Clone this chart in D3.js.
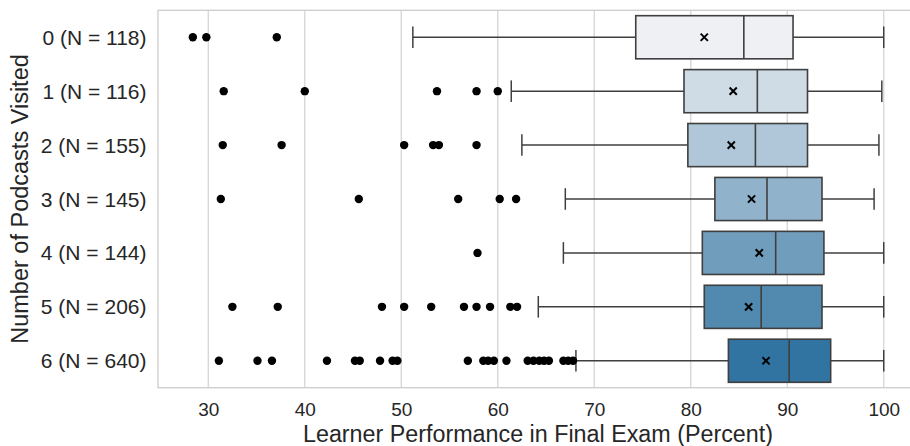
<!DOCTYPE html>
<html>
<head>
<meta charset="utf-8">
<script src="https://cdn.jsdelivr.net/npm/d3@7"></script>
<style>
  html, body { margin: 0; padding: 0; background: #fff; }
  svg { display: block; }
  text { font-family: "Liberation Sans", Arial, sans-serif; fill: #262626; }
</style>
</head>
<body>
<svg id="chart" width="910" height="446"></svg>
<script>
// ---- data ----
const categories = ["0 (N = 118)", "1 (N = 116)", "2 (N = 155)", "3 (N = 145)", "4 (N = 144)", "5 (N = 206)", "6 (N = 640)"];
const whiskerLow  = [51.2, 61.4, 62.5, 67.0, 66.8, 64.2, 68.1];
const q1          = [74.3, 79.3, 79.7, 82.5, 81.2, 81.4, 83.9];
const median      = [85.5, 86.9, 86.7, 87.9, 88.8, 87.3, 90.2];
const q3          = [90.6, 92.1, 92.1, 93.6, 93.8, 93.6, 94.5];
const whiskerHigh = [100, 99.8, 99.5, 99.0, 100, 100, 100];
const means       = [81.4, 84.4, 84.2, 86.3, 87.1, 86.0, 87.8];
const outliers = [
  [28.4, 29.8, 37.1],
  [31.6, 40.0, 53.7, 57.8, 60.0],
  [31.5, 37.6, 50.3, 53.3, 53.9, 57.8],
  [31.3, 45.6, 55.9, 60.2, 61.9],
  [57.9],
  [32.5, 37.2, 48.0, 50.3, 53.1, 56.5, 57.8, 59.2, 61.3, 62.0],
  [31.1, 35.1, 36.6, 42.3, 45.2, 45.7, 47.8, 49.1, 49.6, 56.9, 58.5, 59.0, 59.6, 60.9,
   63.1, 63.7, 64.3, 64.8, 65.3, 66.8, 67.3, 67.8]
];
const xTicks = [30, 40, 50, 60, 70, 80, 90, 100];
const boxColors = ["#eef0f3", "#cfdbe5", "#afc7d8", "#90b2ca", "#719dbc", "#5189af", "#3274a1"];
const xTitle = "Learner Performance in Final Exam (Percent)";
const yTitle = "Number of Podcasts Visited";

// ---- layout ----
const svg = d3.select("#chart");
const plot = { left: 158, right: 918, top: 10.3, bottom: 387.7 };

const x = d3.scaleLinear().domain([24.79, 103.55]).range([plot.left, plot.right]);
const y = d3.scaleBand().domain(categories).range([plot.top, plot.bottom]).padding(0);
const bw = y.bandwidth();
const boxH = bw * 0.8;
const capH = bw * 0.4;
const lineCol = "#3f3f3f";

// grid
svg.append("g").selectAll("line").data(xTicks).join("line")
  .attr("x1", d => x(d)).attr("x2", d => x(d))
  .attr("y1", plot.top).attr("y2", plot.bottom)
  .attr("stroke", "#d5d5d5").attr("stroke-width", 1.3);

// frame
svg.append("rect")
  .attr("x", plot.left).attr("y", plot.top)
  .attr("width", plot.right - plot.left).attr("height", plot.bottom - plot.top)
  .attr("fill", "none").attr("stroke", "#cccccc").attr("stroke-width", 1.3);

// x axis
const xAxis = d3.axisBottom(x).tickValues(xTicks).tickSize(0).tickPadding(0);
const gx = svg.append("g").attr("transform", `translate(0,${plot.bottom})`).call(xAxis);
gx.select(".domain").remove();
gx.selectAll("text").attr("font-size", 19).attr("dy", null).attr("y", 28)
  .style("font-family", '"Liberation Sans", Arial, sans-serif').attr("fill", "#262626");

// y axis
const yAxis = d3.axisLeft(y).tickSize(0).tickPadding(11.5);
const gy = svg.append("g").attr("transform", `translate(${plot.left},0)`).call(yAxis);
gy.select(".domain").remove();
gy.selectAll("text").attr("font-size", 21).attr("dy", "0.36em")
  .style("font-family", '"Liberation Sans", Arial, sans-serif').attr("fill", "#262626");

// titles
svg.append("text").attr("x", (plot.left + plot.right) / 2).attr("y", 441.5)
  .attr("text-anchor", "middle").attr("font-size", 23.3).text(xTitle);
svg.append("text").attr("transform", `translate(28.3,${(plot.top + plot.bottom) / 2}) rotate(-90)`)
  .attr("text-anchor", "middle").attr("font-size", 23.5).text(yTitle);

// boxes
const rows = categories.map((c, i) => ({
  c, i, wl: whiskerLow[i], q1: q1[i], med: median[i], q3: q3[i], wh: whiskerHigh[i],
  mean: means[i], out: outliers[i], color: boxColors[i]
}));
const g = svg.append("g");
const rg = g.selectAll("g.row").data(rows).join("g").attr("class", "row")
  .attr("transform", d => `translate(0,${y(d.c) + bw / 2})`);

// whiskers
rg.append("line").attr("x1", d => x(d.wl)).attr("x2", d => x(d.q1)).attr("y1", 0).attr("y2", 0)
  .attr("stroke", lineCol).attr("stroke-width", 1.5);
rg.append("line").attr("x1", d => x(d.q3)).attr("x2", d => x(d.wh)).attr("y1", 0).attr("y2", 0)
  .attr("stroke", lineCol).attr("stroke-width", 1.5);
// caps
rg.append("line").attr("x1", d => x(d.wl)).attr("x2", d => x(d.wl)).attr("y1", -capH / 2).attr("y2", capH / 2)
  .attr("stroke", lineCol).attr("stroke-width", 1.5);
rg.append("line").attr("x1", d => x(d.wh)).attr("x2", d => x(d.wh)).attr("y1", -capH / 2).attr("y2", capH / 2)
  .attr("stroke", lineCol).attr("stroke-width", 1.5);
// box
rg.append("rect").attr("x", d => x(d.q1)).attr("y", -boxH / 2)
  .attr("width", d => x(d.q3) - x(d.q1)).attr("height", boxH)
  .attr("fill", d => d.color).attr("stroke", lineCol).attr("stroke-width", 1.6);
// median
rg.append("line").attr("x1", d => x(d.med)).attr("x2", d => x(d.med)).attr("y1", -boxH / 2).attr("y2", boxH / 2)
  .attr("stroke", lineCol).attr("stroke-width", 1.6);
// outliers
rg.selectAll("circle").data(d => d.out).join("circle")
  .attr("cx", v => x(v)).attr("cy", 0).attr("r", 4.2).attr("fill", "#000");
// mean markers
const ms = 3.6;
rg.append("path")
  .attr("d", d => `M${x(d.mean) - ms},${-ms}L${x(d.mean) + ms},${ms}M${x(d.mean) - ms},${ms}L${x(d.mean) + ms},${-ms}`)
  .attr("stroke", "#000").attr("stroke-width", 2);
</script>
</body>
</html>
